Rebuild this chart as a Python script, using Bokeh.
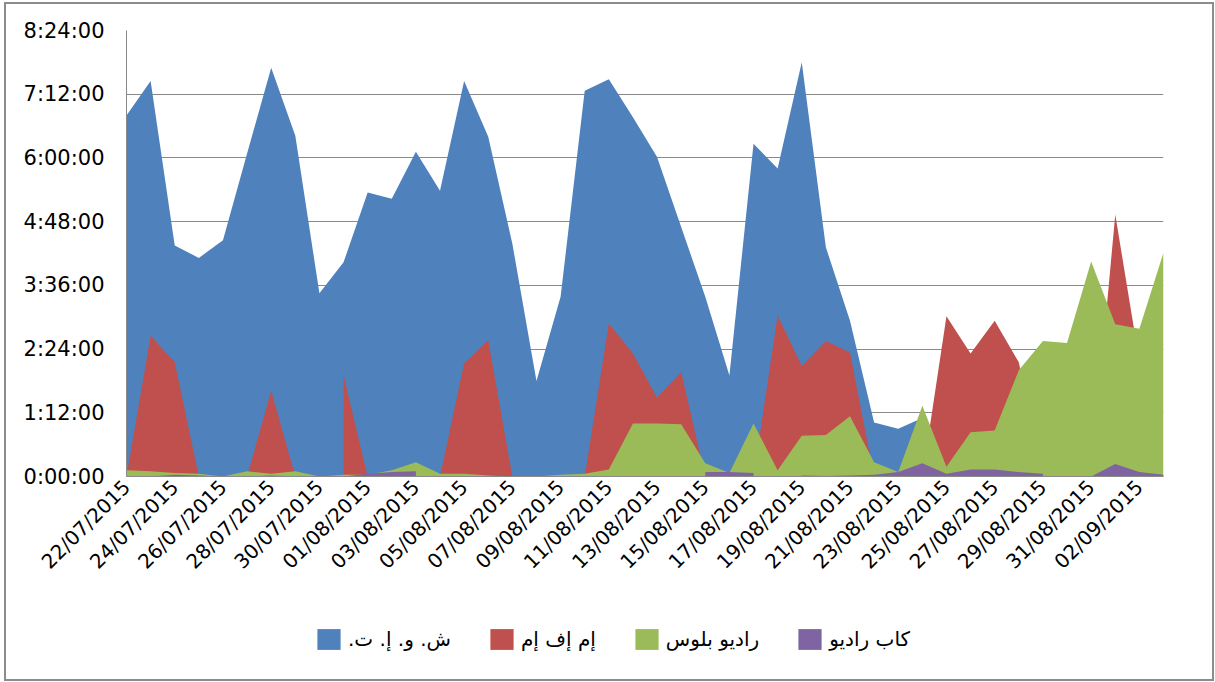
import math
from bokeh.plotting import figure
from bokeh.layouts import column
from bokeh.models import Range1d, FixedTicker, Legend, LegendItem
from bokeh.embed import file_html
from bokeh.resources import INLINE

# ---- data (minutes per day) ----
dates = ["22/07/2015", "23/07/2015", "24/07/2015", "25/07/2015", "26/07/2015", "27/07/2015",
         "28/07/2015", "29/07/2015", "30/07/2015", "31/07/2015", "01/08/2015", "02/08/2015",
         "03/08/2015", "04/08/2015", "05/08/2015", "06/08/2015", "07/08/2015", "08/08/2015",
         "09/08/2015", "10/08/2015", "11/08/2015", "12/08/2015", "13/08/2015", "14/08/2015",
         "15/08/2015", "16/08/2015", "17/08/2015", "18/08/2015", "19/08/2015", "20/08/2015",
         "21/08/2015", "22/08/2015", "23/08/2015", "24/08/2015", "25/08/2015", "26/08/2015",
         "27/08/2015", "28/08/2015", "29/08/2015", "30/08/2015", "31/08/2015", "01/09/2015",
         "02/09/2015", "03/09/2015"]

nan = float("nan")  # empty cell (gap) in the source sheet

blue = [408, 447, 261, 247, 267, 365, 462, 385, 207, 242, 321, 314,
        367, 323, 447, 384, 263, 108, 203, 436, 449, 406, 361, 282,
        203, 114, 376, 348, 468, 259, 176, 61, 54, 66, 0, 0,
        0, 0, 0, 0, 0, 0, 0, 0]

red = [0, 159, 129, 0, 0, 0, 97, 0, nan, 114, 0, 0,
       0, 0, 128, 154, 0, 0, 0, 0, 173, 139, 89, 118,
       0, 0, 0, 182, 125, 153, 140, 0, 0, 0, 181, 139,
       176, 129, 0, 0, 0, 296, 130, 0]

green = [7, 6, 4, 3, 0, 6, 3, 6, 0, 2, 2, 7,
         16, 3, 3, 1, 0, 0, 2, 3, 8, 60, 60, 59,
         15, 4, 60, 7, 46, 47, 68, 16, 5, 80, 11, 50,
         52, 120, 153, 151, 243, 172, 167, 253]

purple = [0, 0, 2, 1, 0, 0, 1, 0, 0, 0, 3, 5,
          6, nan, 0, 0, 0, 0, 0, 0, 0, 0, 0, nan,
          5, 5, 4, nan, 1, 0.5, 1, 2, 5, 15, 3, 8,
          8, 5, 3, nan, 0, 14, 5, 2]

RLM = "\u200f"
series_names = ["ش. و. إ. ت." + RLM, "إم إف إم", "راديو بلوس", "كاب راديو"]
series_colors = ["#4F81BD", "#C0504D", "#9BBB59", "#8064A2"]

y_ticks = [0, 72, 144, 216, 288, 360, 432, 504]
y_labels = ["0:00:00", "1:12:00", "2:24:00", "3:36:00", "4:48:00", "6:00:00", "7:12:00", "8:24:00"]

x = list(range(len(dates)))


def runs(vals):
    """Split a series into runs of non-empty cells."""
    out, cur = [], []
    for i, v in enumerate(vals):
        if v != v:  # nan
            if cur:
                out.append(cur)
            cur = []
        else:
            cur.append(i)
    if cur:
        out.append(cur)
    return out


p = figure(width=1206, height=584, output_backend="svg", toolbar_location=None,
           x_range=Range1d(0, len(dates) - 1), y_range=Range1d(0, 504),
           min_border_left=120, min_border_right=49, min_border_top=26, min_border_bottom=112)
p.outline_line_color = None
p.background_fill_color = "white"
p.border_fill_color = "white"

for vals, col in zip([blue, red, green, purple], series_colors):
    for idx in runs(vals):
        p.varea(x=[x[i] for i in idx], y1=[0] * len(idx), y2=[vals[i] for i in idx],
                fill_color=col, fill_alpha=1.0)

p.xgrid.grid_line_color = None
p.ygrid.grid_line_color = "#8a8a8a"
p.ygrid.grid_line_width = 1

p.yaxis.ticker = FixedTicker(ticks=y_ticks)
p.yaxis.major_label_overrides = {t: l for t, l in zip(y_ticks, y_labels)}
p.yaxis.major_tick_out = 0
p.yaxis.major_tick_in = 0
p.yaxis.minor_tick_out = 0
p.yaxis.minor_tick_in = 0
p.yaxis.major_label_standoff = 22
p.yaxis.major_label_text_font = "DejaVu Sans"
p.yaxis.major_label_text_font_size = "21px"
p.yaxis.major_label_text_color = "black"
p.yaxis.axis_line_color = "#8a8a8a"

xt = x[::2]
p.xaxis.ticker = FixedTicker(ticks=xt)
p.xaxis.major_label_overrides = {i: dates[i] for i in xt}
p.xaxis.major_label_orientation = math.pi / 4
p.xaxis.major_tick_out = 0
p.xaxis.major_tick_in = 0
p.xaxis.minor_tick_out = 0
p.xaxis.minor_tick_in = 0
p.xaxis.major_label_standoff = 7
p.xaxis.major_label_text_font = "DejaVu Sans"
p.xaxis.major_label_text_font_size = "20px"
p.xaxis.major_label_text_color = "black"
p.xaxis.axis_line_color = "#8a8a8a"

# legend strip below the chart (legend proxies are zero-area, invisible)
p2 = figure(width=1206, height=91, output_backend="svg", toolbar_location=None,
            x_range=Range1d(0, 1), y_range=Range1d(0, 1),
            x_axis_location=None, y_axis_location=None,
            min_border_left=0, min_border_right=0, min_border_top=0, min_border_bottom=0)
p2.outline_line_color = None
p2.grid.visible = False
p2.background_fill_color = "white"
p2.border_fill_color = "white"

items = []
for name, col in zip(series_names, series_colors):
    r = p2.varea(x=[0], y1=[0], y2=[0], fill_color=col, fill_alpha=1.0)
    items.append(LegendItem(label=name, renderers=[r]))

legend = Legend(items=items, orientation="horizontal", location=(188, 27),
                glyph_width=29, glyph_height=26, label_standoff=5, spacing=36,
                padding=0, margin=0, border_line_color=None, background_fill_alpha=0,
                label_text_font="DejaVu Sans", label_text_font_size="20px",
                label_text_color="black")
p2.add_layout(legend, "center")

layout = column(p, p2, spacing=0)
layout.styles = {"border": "2px solid #8c8c8c", "margin": "2px 0 0 4px"}

open("out.html", "w").write(file_html(layout, INLINE))
